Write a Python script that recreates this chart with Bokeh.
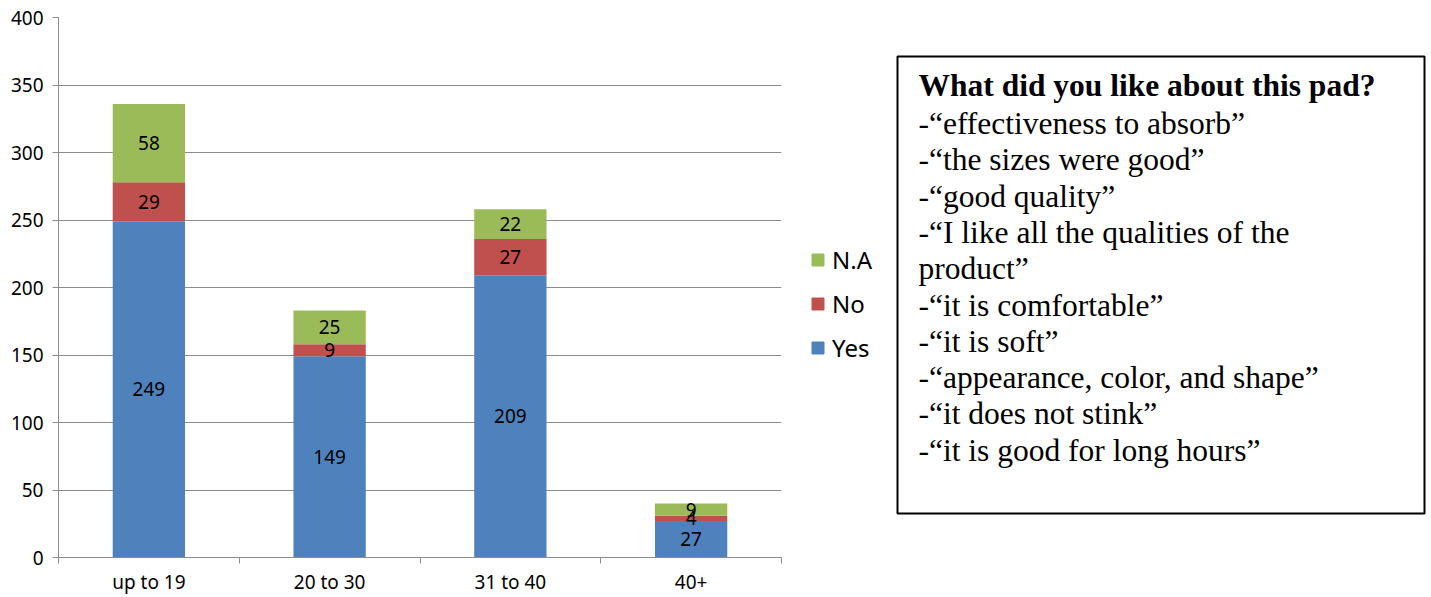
import numpy as np
from bokeh.plotting import figure
from bokeh.models import ColumnDataSource, Range1d, FixedTicker, Legend, LegendItem
from bokeh.layouts import row
from bokeh.core.properties import value
from bokeh.embed import file_html
from bokeh.resources import INLINE

# Survey answers by age group
age_groups = ["up to 19", "20 to 30", "31 to 40", "40+"]
yes = [249, 149, 209, 27]
no = [29, 9, 27, 4]
na = [58, 25, 22, 9]
series_names = ["Yes", "No", "N.A"]
series_colors = ["#4F81BD", "#C0504D", "#9BBB59"]
y_ticks = [0, 50, 100, 150, 200, 250, 300, 350, 400]

box_title = "What did you like about this pad?"
box_lines = [
    "-\u201ceffectiveness to absorb\u201d",
    "-\u201cthe sizes were good\u201d",
    "-\u201cgood quality\u201d",
    "-\u201cI like all the qualities of the",
    "product\u201d",
    "-\u201cit is comfortable\u201d",
    "-\u201cit is soft\u201d",
    "-\u201cappearance, color, and shape\u201d",
    "-\u201cit does not stink\u201d",
    "-\u201cit is good for long hours\u201d",
]

SANS = "Noto Sans"
SERIF = "Liberation Serif"
GRID = "#8C8C8C"
W, H = 1431, 597
TOP, BOTTOM = 17, 40          # shared vertical borders of both panels
CHART_W = 790                 # width of the chart panel

# ---------------- stacked bar chart ----------------
n = len(age_groups)
centers = np.arange(n) + 0.5
source = ColumnDataSource(dict(x=centers, Yes=yes, No=no, NA=na))

p = figure(width=CHART_W, height=H, x_range=Range1d(0, n), y_range=Range1d(0, 400),
           output_backend="svg", toolbar_location=None,
           min_border_left=58, min_border_right=9, min_border_top=TOP, min_border_bottom=BOTTOM)
p.outline_line_color = None
p.background_fill_color = "white"

p.vbar_stack(["Yes", "No", "NA"], x="x", width=0.4, source=source,
             color=series_colors, line_color=None)

# value labels centred in each segment
cum = np.zeros(n)
for vals in (yes, no, na):
    v = np.array(vals, dtype=float)
    p.text(x=centers, y=cum + v / 2, text=[str(a) for a in vals], text_align="center",
           text_baseline="middle", text_font=value(SANS), text_font_size="19px",
           text_color="black")
    cum = cum + v

# axes
p.yaxis.ticker = FixedTicker(ticks=y_ticks)
p.yaxis.major_tick_out = 6
p.yaxis.major_tick_in = 0
p.yaxis.minor_tick_line_color = None
p.yaxis.axis_line_color = GRID
p.yaxis.major_tick_line_color = GRID
p.yaxis.major_label_standoff = 9
p.yaxis.major_label_text_font = SANS
p.yaxis.major_label_text_font_size = "19px"
p.yaxis.major_label_text_color = "black"

p.xaxis.ticker = FixedTicker(ticks=list(centers), minor_ticks=list(np.arange(n + 1)))
p.xaxis.major_label_overrides = {float(c): g for c, g in zip(centers, age_groups)}
p.xaxis.major_tick_line_color = None
p.xaxis.major_tick_out = 0
p.xaxis.major_tick_in = 0
p.xaxis.minor_tick_out = 6
p.xaxis.minor_tick_in = 0
p.xaxis.minor_tick_line_color = GRID
p.xaxis.axis_line_color = GRID
p.xaxis.major_label_standoff = 5
p.xaxis.major_label_text_font = SANS
p.xaxis.major_label_text_font_size = "19px"
p.xaxis.major_label_text_color = "black"

p.xgrid.grid_line_color = None
p.ygrid.grid_line_color = GRID
p.ygrid.ticker = FixedTicker(ticks=y_ticks)

# ---------------- legend + comments box (page-pixel coordinates) ----------------
q = figure(width=W - CHART_W, height=H, x_range=Range1d(CHART_W, W), y_range=Range1d(H - BOTTOM, TOP),
           output_backend="svg", toolbar_location=None,
           min_border_left=0, min_border_right=0, min_border_top=TOP, min_border_bottom=BOTTOM)
q.axis.visible = False
q.grid.grid_line_color = None
q.outline_line_color = None

# legend swatches share the bar colours (placeholder rows, nothing drawn in the panel)
swatches = [q.vbar(x=[np.nan], top=[np.nan], width=1, color=c) for c in series_colors]
items = [LegendItem(label=name, renderers=[r]) for name, r in zip(series_names, swatches)]
legend = Legend(items=items[::-1], location=(20, 193), orientation="vertical",
                glyph_width=15, glyph_height=15, label_text_font=SANS,
                label_text_font_size="24px", label_text_color="black",
                label_standoff=7, spacing=11,
                padding=0, margin=0, border_line_color=None, background_fill_alpha=0)
q.add_layout(legend, "center")

q.quad(left=[897], right=[1424], top=[56], bottom=[513], fill_color=None,
       line_color="black", line_width=2)

q.text(x=[918], y=[85], text=[box_title], text_font=value(SERIF), text_font_size="31.5px",
       text_font_style="bold", text_baseline="alphabetic", text_color="black")
line_y = 123 + 36.3 * np.arange(len(box_lines))
q.text(x=[918] * len(box_lines), y=line_y, text=box_lines, text_font=value(SERIF),
       text_font_size="31.5px", text_baseline="alphabetic", text_color="black")

layout = row(p, q)
open("out.html", "w").write(file_html(layout, INLINE))
